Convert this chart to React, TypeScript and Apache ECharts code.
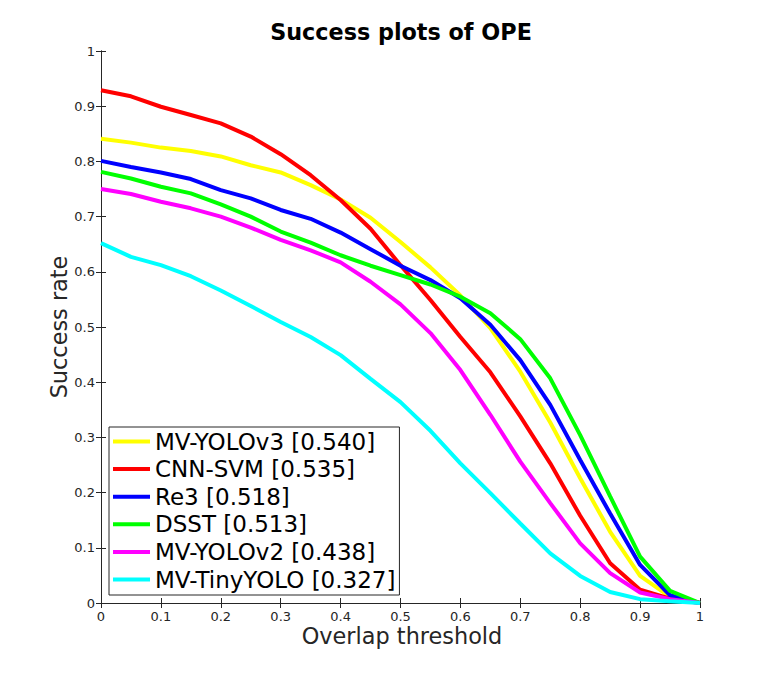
import React, { useEffect, useRef } from "react";
import * as echarts from "echarts";

const thresholds = [0, 0.05, 0.1, 0.15, 0.2, 0.25, 0.3, 0.35, 0.4, 0.45, 0.5, 0.55, 0.6, 0.65, 0.7, 0.75, 0.8, 0.85, 0.9, 0.95, 1];

const mvYolov3 = [0.841, 0.834, 0.825, 0.819, 0.809, 0.793, 0.780, 0.757, 0.731, 0.698, 0.654, 0.608, 0.557, 0.498, 0.419, 0.327, 0.226, 0.129, 0.049, 0.011, 0];
const cnnSvm = [0.929, 0.918, 0.899, 0.884, 0.869, 0.845, 0.813, 0.775, 0.730, 0.678, 0.612, 0.549, 0.482, 0.418, 0.338, 0.253, 0.158, 0.072, 0.024, 0.008, 0];
const re3 = [0.801, 0.790, 0.780, 0.768, 0.748, 0.733, 0.712, 0.696, 0.671, 0.641, 0.611, 0.585, 0.552, 0.504, 0.440, 0.359, 0.259, 0.162, 0.069, 0.014, 0];
const dsst = [0.781, 0.769, 0.754, 0.742, 0.722, 0.700, 0.673, 0.653, 0.630, 0.611, 0.594, 0.577, 0.555, 0.525, 0.478, 0.407, 0.304, 0.193, 0.084, 0.022, 0];
const mvYolov2 = [0.750, 0.741, 0.727, 0.715, 0.700, 0.680, 0.658, 0.639, 0.617, 0.582, 0.541, 0.489, 0.422, 0.341, 0.256, 0.181, 0.108, 0.054, 0.019, 0.007, 0];
const mvTinyYolo = [0.652, 0.627, 0.612, 0.592, 0.566, 0.538, 0.509, 0.482, 0.449, 0.406, 0.364, 0.312, 0.253, 0.199, 0.144, 0.090, 0.049, 0.020, 0.007, 0.003, 0];

const seriesNames = [
  "MV-YOLOv3 [0.540]",
  "CNN-SVM [0.535]",
  "Re3 [0.518]",
  "DSST [0.513]",
  "MV-YOLOv2 [0.438]",
  "MV-TinyYOLO [0.327]",
];
const seriesValues = [mvYolov3, cnnSvm, re3, dsst, mvYolov2, mvTinyYolo];
const seriesColors = ["#ffff00", "#ff0000", "#0000ff", "#00ff00", "#ff00ff", "#00ffff"];

const titleText = "Success plots of OPE";
const xLabel = "Overlap threshold";
const yLabel = "Success rate";

const FONT = "DejaVu Sans";
const AXIS_COLOR = "#262626";

export default function App() {
  const ref = useRef<HTMLDivElement>(null);

  useEffect(() => {
    if (!ref.current) return;
    const chart = echarts.init(ref.current, undefined, { renderer: "svg" });
    const fmt = (v: number) => String(Math.round(v * 10) / 10);
    const axisCommon = {
      type: "value" as const,
      min: 0,
      max: 1,
      interval: 0.1,
      splitLine: { show: false },
      axisLine: { show: true, lineStyle: { color: AXIS_COLOR, width: 1 } },
      axisTick: { show: true, inside: true, length: 5, lineStyle: { color: AXIS_COLOR, width: 1 } },
    };
    chart.setOption({
      animation: false,
      backgroundColor: "#ffffff",
      grid: { left: 101, right: 76, top: 51, bottom: 76, containLabel: false },
      xAxis: [
        {
          ...axisCommon,
          position: "bottom",
          axisLabel: { color: AXIS_COLOR, fontSize: 13, fontFamily: FONT, margin: 7, formatter: fmt },
        },
        {
          ...axisCommon,
          position: "top",
          axisLabel: { show: false },
        },
      ],
      yAxis: [
        {
          ...axisCommon,
          position: "left",
          axisLabel: { color: AXIS_COLOR, fontSize: 13, fontFamily: FONT, margin: 6, formatter: fmt },
        },
        {
          ...axisCommon,
          position: "right",
          axisLabel: { show: false },
        },
      ],
      legend: {
        orient: "vertical",
        left: 109,
        top: 427,
        padding: [3, 4, 4, 4],
        itemGap: 4.6,
        itemWidth: 37,
        itemHeight: 4,
        icon: "rect",
        borderColor: AXIS_COLOR,
        borderWidth: 1,
        backgroundColor: "#ffffff",
        textStyle: { color: "#000000", fontSize: 23, lineHeight: 23, fontFamily: FONT },
        data: seriesNames,
      },
      graphic: [
        {
          type: "text",
          x: 401,
          y: 32,
          style: {
            text: titleText,
            fontFamily: FONT,
            fontSize: 22.3,
            fontWeight: "bold",
            fill: "#000000",
            textAlign: "center",
            textVerticalAlign: "middle",
          },
        },
        {
          type: "text",
          x: 402,
          y: 636,
          style: {
            text: xLabel,
            fontFamily: FONT,
            fontSize: 22.4,
            fill: AXIS_COLOR,
            textAlign: "center",
            textVerticalAlign: "middle",
          },
        },
        {
          type: "text",
          x: 59,
          y: 327,
          rotation: Math.PI / 2,
          style: {
            text: yLabel,
            fontFamily: FONT,
            fontSize: 22.4,
            fill: AXIS_COLOR,
            textAlign: "center",
            textVerticalAlign: "middle",
          },
        },
      ],
      series: seriesNames.map((name, i) => ({
        name,
        type: "line",
        xAxisIndex: 0,
        yAxisIndex: 0,
        showSymbol: false,
        symbol: "none",
        lineStyle: { color: seriesColors[i], width: 4 },
        itemStyle: { color: seriesColors[i] },
        data: thresholds.map((t, j) => [t, seriesValues[i][j]]),
        z: 2 + i,
      })),
    });
    return () => chart.dispose();
  }, []);

  return (
    <div
      ref={ref}
      style={{ position: "fixed", left: 0, top: 0, width: 776, height: 679, background: "#fff" }}
    />
  );
}
